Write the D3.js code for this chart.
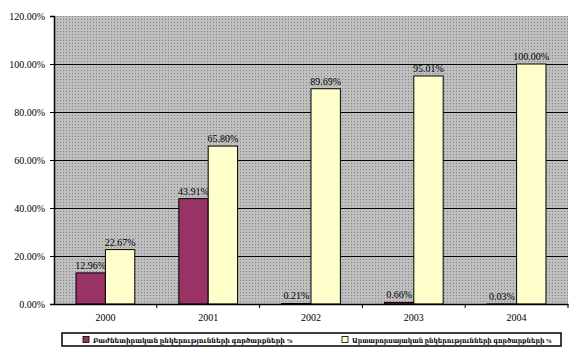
<!DOCTYPE html>
<meta charset="utf-8">
<style>
    body { margin: 0; background: #fff; }
    text { font-family: "Liberation Serif", "DejaVu Serif", serif; }
</style>
<script src="https://cdn.jsdelivr.net/npm/d3@7"></script>
<div id="chart"></div>
<script>
    // data
    var years = ["2000", "2001", "2002", "2003", "2004"];
    var seriesNames = [
        "Բաժնետիրական ընկերությունների գործարքների %",
        "Արտաբորսայական ընկերությունների գործարքների %"
    ];
    var series1 = [12.96, 43.91, 0.21, 0.66, 0.03];
    var series2 = [22.67, 65.80, 89.69, 95.01, 100.00];
    var yTicks = [0, 20, 40, 60, 80, 100, 120];
    var colors = ["#993366", "#ffffcc"];

    var W = 588, H = 355;
    var margin = {top: 16, right: 20, bottom: 51, left: 54},
        width = W - margin.left - margin.right,
        height = H - margin.top - margin.bottom;

    var svg = d3.select("#chart").append("svg")
        .attr("width", W)
        .attr("height", H);

    // dotted grey background like the old excel chart
    var defs = svg.append("defs");
    var pat = defs.append("pattern")
        .attr("id", "dots")
        .attr("width", 3).attr("height", 3)
        .attr("patternUnits", "userSpaceOnUse");
    pat.append("rect").attr("width", 3).attr("height", 3).attr("fill", "#bfbfbf");
    pat.append("rect").attr("width", 1).attr("height", 1).attr("fill", "#858585");

    var g = svg.append("g")
        .attr("transform", "translate(" + margin.left + "," + margin.top + ")");

    var x = d3.scaleBand()
        .domain(years)
        .range([0, width]);

    var y = d3.scaleLinear()
        .domain([0, 120])
        .range([height, 0]);

    g.append("rect")
        .attr("width", width)
        .attr("height", height)
        .attr("fill", "url(#dots)");

    // gridlines
    g.selectAll(".grid")
        .data(yTicks.filter(function (d) { return d > 0 && d < 120; }))
        .enter().append("line")
        .attr("x1", 0).attr("x2", width)
        .attr("y1", function (d) { return Math.round(y(d)) + 0.5; })
        .attr("y2", function (d) { return Math.round(y(d)) + 0.5; })
        .attr("stroke", "#000");

    // bars
    var barW = x.bandwidth() / (2 + 1.5);
    var groups = [series1, series2];
    groups.forEach(function (vals, si) {
        g.append("g").selectAll("rect")
            .data(vals)
            .enter().append("rect")
            .attr("x", function (d, i) { return x(years[i]) + x.bandwidth() / 2 - barW + si * barW; })
            .attr("y", function (d) { return y(d); })
            .attr("width", barW)
            .attr("height", function (d) { return height - y(d); })
            .attr("fill", colors[si])
            .attr("stroke", "#000")
            .attr("stroke-width", 1);

        g.append("g").selectAll("text")
            .data(vals)
            .enter().append("text")
            .attr("x", function (d, i) { return x(years[i]) + x.bandwidth() / 2 - barW / 2 + si * barW; })
            .attr("y", function (d) { return y(d) - 4; })
            .attr("text-anchor", "middle")
            .attr("font-size", "10px")
            .text(function (d) { return d.toFixed(2) + "%"; });
    });

    // axes
    var yAxis = g.append("g")
        .call(d3.axisLeft(y).tickValues(yTicks).tickSize(4)
            .tickFormat(function (d) { return d.toFixed(2) + "%"; }));
    yAxis.select(".domain").attr("stroke", "#000").attr("stroke-width", 1.5);
    yAxis.selectAll("text").attr("font-size", "10px").attr("font-family", "Liberation Serif").attr("dx", "-2");

    var xAxis = g.append("g")
        .attr("transform", "translate(0," + height + ")")
        .call(d3.axisBottom(x).tickSize(0).tickPadding(10));
    xAxis.select(".domain").attr("stroke", "#000").attr("stroke-width", 1.5);
    xAxis.selectAll("text").attr("font-size", "10px").attr("font-family", "Liberation Serif");
    // tick marks between categories
    xAxis.selectAll(".sep")
        .data(years.slice(1).concat(["end"]))
        .enter().append("line")
        .attr("x1", function (d, i) { return x.step() * (i + 1); })
        .attr("x2", function (d, i) { return x.step() * (i + 1); })
        .attr("y1", 0).attr("y2", 4)
        .attr("stroke", "#000");

    // legend
    var lg = svg.append("g").attr("transform", "translate(62,333)");
    lg.append("rect")
        .attr("width", 499).attr("height", 13)
        .attr("fill", "#fff").attr("stroke", "#000").attr("stroke-width", 1.5);
    var legX = [21, 280];
    seriesNames.forEach(function (name, i) {
        lg.append("rect")
            .attr("x", legX[i]).attr("y", 3.5)
            .attr("width", 6).attr("height", 6)
            .attr("fill", colors[i]).attr("stroke", "#000").attr("stroke-width", 0.8);
        lg.append("text")
            .attr("x", legX[i] + 10).attr("y", 9.5)
            .attr("font-size", "7px")
            .attr("font-weight", "bold")
            .attr("font-family", "DejaVu Sans")
            .attr("textLength", 200)
            .attr("lengthAdjust", "spacingAndGlyphs")
            .text(name);
    });
</script>
